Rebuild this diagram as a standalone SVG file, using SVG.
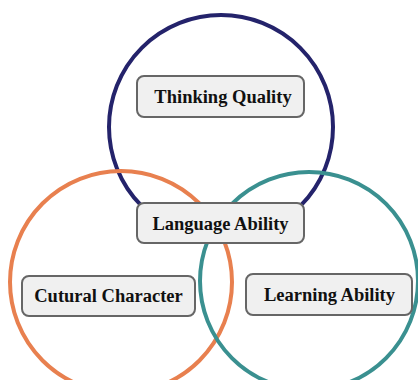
<svg xmlns="http://www.w3.org/2000/svg" width="418" height="380" viewBox="0 0 418 380">
<style>
.ring{fill:none;stroke-width:4}
.box{fill:#f0f0f0;stroke:#666;stroke-width:2}
.lbl{font-family:"Liberation Serif","Times New Roman",serif;font-weight:bold;font-size:18.5px;fill:#111;text-anchor:middle;dominant-baseline:central}
</style>
<rect width="418" height="380" fill="#fff"/>
<g id="rings">
<circle id="ring-thinking" class="ring" cx="221" cy="127" r="112" stroke="#24236b"/>
<circle id="ring-culture" class="ring" cx="121" cy="282" r="111" stroke="#e8804f"/>
<circle id="ring-learning" class="ring" cx="309" cy="281" r="109" stroke="#3a9090"/>
</g>
<g id="connectors"></g>
<g id="node-thinking">
<rect class="box" x="137" y="76" width="167" height="41" rx="7"/>
<text class="lbl" x="223" y="97">Thinking Quality</text>
</g>
<g id="node-language">
<rect class="box" x="137" y="203" width="167" height="40" rx="7"/>
<text class="lbl" x="220.5" y="224">Language Ability</text>
</g>
<g id="node-culture">
<rect class="box" x="22" y="276" width="173" height="40" rx="7"/>
<text class="lbl" x="108.5" y="296">Cutural Character</text>
</g>
<g id="node-learning">
<rect class="box" x="246" y="274" width="166" height="41" rx="7"/>
<text class="lbl" x="329.5" y="295">Learning Ability</text>
</g>
</svg>
